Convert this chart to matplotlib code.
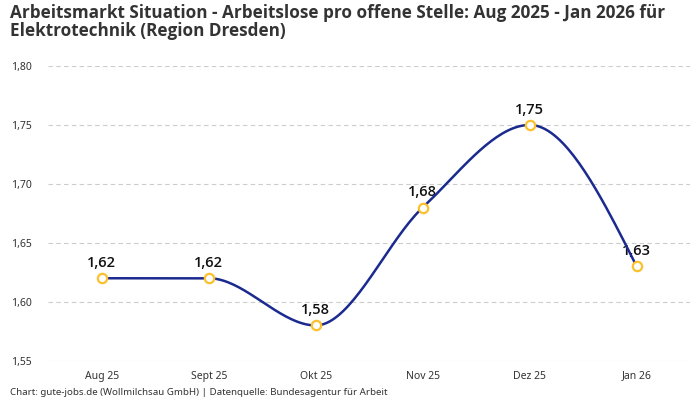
import numpy as np
import matplotlib
matplotlib.use("Agg")
import matplotlib.pyplot as plt

months = ["Aug 25", "Sept 25", "Okt 25", "Nov 25", "Dez 25", "Jan 26"]
values = [1.62, 1.62, 1.58, 1.68, 1.75, 1.63]
y_ticks = [1.55, 1.60, 1.65, 1.70, 1.75, 1.80]

title = ("Arbeitsmarkt Situation - Arbeitslose pro offene Stelle: Aug 2025 - Jan 2026 für\n"
         "Elektrotechnik (Region Dresden)")
source = "Chart: gute-jobs.de (Wollmilchsau GmbH) | Datenquelle: Bundesagentur für Arbeit"

LINE = "#1b2a8f"
MARK = "#fbc02d"


def monotone(x, y, n=40):
    # monotone cubic like d3.curveMonotoneX
    x = np.asarray(x, float)
    y = np.asarray(y, float)
    h = np.diff(x)
    s = np.diff(y) / h
    t = np.zeros(len(x))
    for i in range(1, len(x) - 1):
        p = (s[i - 1] * h[i] + s[i] * h[i - 1]) / (h[i - 1] + h[i])
        t[i] = (np.sign(s[i - 1]) + np.sign(s[i])) * min(abs(s[i - 1]), abs(s[i]), 0.5 * abs(p))
    t[0] = (3 * s[0] - t[1]) / 2
    t[-1] = (3 * s[-1] - t[-2]) / 2
    xs, ys = [], []
    for i in range(len(x) - 1):
        u = np.linspace(0, 1, n)
        h00 = 2 * u**3 - 3 * u**2 + 1
        h10 = u**3 - 2 * u**2 + u
        h01 = -2 * u**3 + 3 * u**2
        h11 = u**3 - u**2
        xs.append(x[i] + u * h[i])
        ys.append(h00 * y[i] + h10 * h[i] * t[i] + h01 * y[i + 1] + h11 * h[i] * t[i + 1])
    return np.concatenate(xs), np.concatenate(ys)


plt.rcParams['font.family'] = ['Noto Sans', 'DejaVu Sans']
bold_font = ['Open Sans', 'DejaVu Sans']

fig = plt.figure(figsize=(7, 4), dpi=100)
ax = fig.add_axes([0.069, 0.098, 0.917, 0.737])

idx = np.arange(len(months))
sx, sy = monotone(idx, values)
ax.plot(sx, sy, color=LINE, lw=1.8, zorder=3)
ax.scatter(idx, values, s=45, facecolor="white", edgecolor=MARK, linewidth=1.6, zorder=4)
for i, v in zip(idx, values):
    ax.annotate(f"{v:.2f}".replace(".", ","), (i, v), xytext=(0, 6), textcoords="offset points",
                ha="center", va="bottom", fontsize=10.5, fontweight="semibold", family=bold_font,
                color="#111111", zorder=2)

ax.set_xlim(-0.5, 5.5)
ax.set_ylim(1.55, 1.80)
ax.set_xticks(idx)
ax.set_xticklabels(months)
ax.set_yticks(y_ticks)
ax.set_yticklabels([f"{t:.2f}".replace(".", ",") for t in y_ticks], ha="left")
ax.tick_params(axis="y", length=0, labelsize=7.5, labelcolor="#333333", pad=27)
ax.tick_params(axis="x", length=0, labelsize=7.5, labelcolor="#333333", pad=7)
ax.grid(axis="y", color="#cccccc", linestyle=(0, (4, 3)), lw=0.8)
for sp in ax.spines.values():
    sp.set_visible(False)

fig.text(0.014, 0.99, title, ha="left", va="top", fontsize=12.3, fontweight="bold",
         family=bold_font, color="#333333", linespacing=1.0)
fig.text(0.014, 0.008, source, ha="left", va="bottom", fontsize=7, color="#333333")

fig.savefig("out.png", dpi=100)
